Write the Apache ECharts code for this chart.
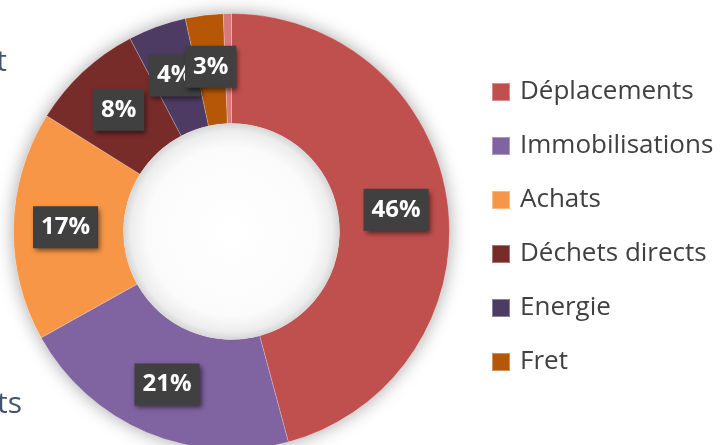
<!DOCTYPE html>
<html>
<head>
<meta charset="utf-8">
<script src="https://cdn.jsdelivr.net/npm/echarts@6/dist/echarts.min.js"></script>
<style>
  html, body { margin: 0; padding: 0; background: #fff; }
  #main { width: 727px; height: 445px; }
</style>
</head>
<body>
<div id="main"></div>
<script>
// postes d'émission (le dernier, très petit, n'apparaît pas dans la légende)
var categories = ['Déplacements', 'Immobilisations', 'Achats', 'Déchets directs', 'Energie', 'Fret', 'Autres'];
var values = [45.8, 21.1, 17.0, 8.4, 4.3, 2.8, 0.6];
var legendItems = ['Déplacements', 'Immobilisations', 'Achats', 'Déchets directs', 'Energie', 'Fret'];
var sideTexts = ['t', 'ts'];

var colors = ['#c0504d', '#8064a2', '#f79646', '#772c2a', '#4e3b63', '#b65708', '#d8787a'];

var myChart = echarts.init(document.getElementById('main'));

var pieData = [];
for (var i = 0; i < categories.length; i++) {
    var item = {
        name: categories[i],
        value: values[i],
        itemStyle: { color: colors[i] }
    };
    if (legendItems.indexOf(categories[i]) < 0) {
        item.label = { show: false };
    }
    pieData.push(item);
}

var option = {
    backgroundColor: '#ffffff',
    animation: false,
    legend: {
        orient: 'vertical',
        left: 486,
        top: 74,
        itemWidth: 18,
        itemHeight: 18,
        itemGap: 28,
        icon: 'rect',
        data: legendItems,
        textStyle: {
            fontFamily: 'Open Sans',
            fontSize: 26,
            color: '#404040',
            padding: [0, 0, 0, 5]
        }
    },
    graphic: [
        {
            type: 'text',
            silent: true,
            style: { text: sideTexts[0], x: 7, y: 62, align: 'right', verticalAlign: 'middle',
                     font: '30px "Open Sans"', fill: '#44546a' }
        },
        {
            type: 'text',
            silent: true,
            style: { text: sideTexts[1], x: 22, y: 404, align: 'right', verticalAlign: 'middle',
                     font: '30px "Open Sans"', fill: '#44546a' }
        }
    ],
    series: [
        {
            // ombre douce autour de l'anneau
            name: 'ombre',
            type: 'pie',
            silent: true,
            z: 1,
            center: [231.5, 231.5],
            radius: [0, 218],
            label: { show: false },
            itemStyle: {
                color: '#ffffff',
                shadowBlur: 18,
                shadowColor: 'rgba(0,0,0,0.35)'
            },
            data: [{ value: 1, name: '' }]
        },
        {
            name: 'Emissions',
            type: 'pie',
            z: 2,
            center: [231.5, 231.5],
            radius: [108, 218],
            startAngle: 90,
            clockwise: true,
            avoidLabelOverlap: false,
            labelLayout: { hideOverlap: false },
            itemStyle: {
                borderColor: 'rgba(255,255,255,0.35)',
                borderWidth: 0.6
            },
            label: {
                show: true,
                position: 'inside',
                formatter: function (p) {
                    return Math.round(p.percent) + '%';
                },
                fontFamily: 'Open Sans',
                fontWeight: 'bold',
                fontSize: 24,
                lineHeight: 24,
                color: '#ffffff',
                backgroundColor: '#404040',
                padding: [9, 8, 9, 8],
                shadowColor: 'rgba(0,0,0,0.55)',
                shadowBlur: 5,
                shadowOffsetX: 2,
                shadowOffsetY: 3
            },
            labelLine: { show: false },
            data: pieData
        },
        {
            // ombre intérieure du trou
            name: 'trou',
            type: 'pie',
            silent: true,
            z: 3,
            center: [231.5, 231.5],
            radius: [0, 108],
            label: { show: false },
            itemStyle: {
                color: {
                    type: 'radial', x: 0.5, y: 0.5, r: 0.5,
                    colorStops: [
                        { offset: 0, color: '#ffffff' },
                        { offset: 0.78, color: '#fbfbfb' },
                        { offset: 0.93, color: '#ededed' },
                        { offset: 1, color: '#d6d6d6' }
                    ]
                }
            },
            data: [{ value: 1, name: '' }]
        }
    ]
};

myChart.setOption(option);
</script>
</body>
</html>
